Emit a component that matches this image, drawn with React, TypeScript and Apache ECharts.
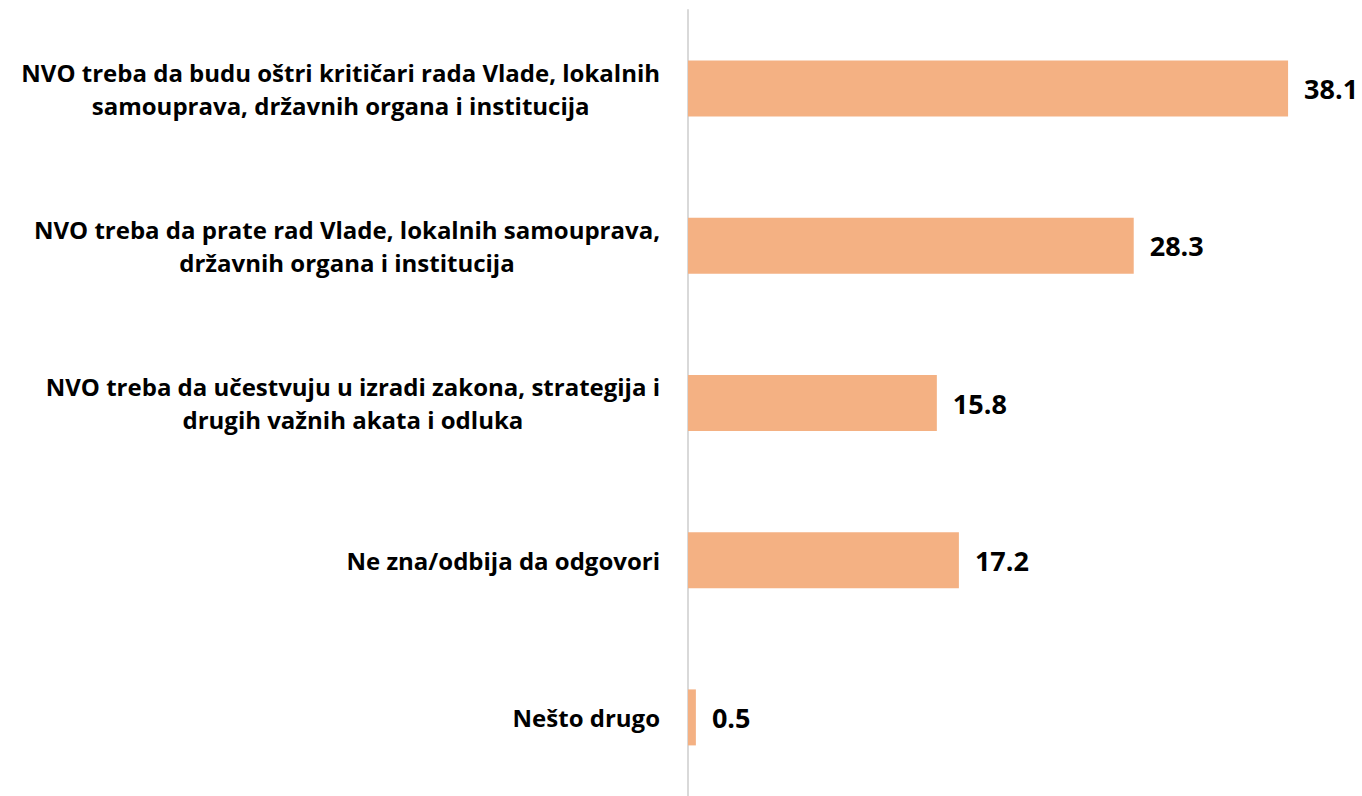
import React, { useEffect, useRef } from "react";
import * as echarts from "echarts";

const categories: string[] = [
  "NVO treba da budu oštri kritičari rada Vlade, lokalnih\nsamouprava, državnih organa i institucija",
  "NVO treba da prate rad Vlade, lokalnih samouprava,\ndržavnih organa i institucija",
  "NVO treba da učestvuju u izradi zakona, strategija i\ndrugih važnih akata i odluka",
  "Ne zna/odbija da odgovori",
  "Nešto drugo",
];

const values: number[] = [38.1, 28.3, 15.8, 17.2, 0.5];

const FONT = "'Open Sans', Lato, sans-serif";

export default function App() {
  const ref = useRef<HTMLDivElement>(null);

  useEffect(() => {
    if (!ref.current) return;
    const chart = echarts.init(ref.current, undefined, { renderer: "svg" });
    chart.setOption({
      animation: false,
      backgroundColor: "#ffffff",
      grid: { left: 688, top: 10, width: 630, height: 790, containLabel: false },
      xAxis: {
        type: "value",
        min: 0,
        max: 40,
        show: false,
        splitLine: { show: false },
      },
      yAxis: {
        type: "category",
        data: categories,
        inverse: true,
        axisLine: { show: true, lineStyle: { color: "#d9d9d9", width: 2 } },
        axisTick: { show: false },
        splitLine: { show: false },
        axisLabel: {
          margin: 28,
          formatter: (v: string) =>
            v
              .split("\n")
              .map((l) => "{a|" + l + "}")
              .join("\n"),
          rich: {
            a: {
              align: "center",
              fontFamily: FONT,
              fontSize: 24,
              fontWeight: "bold",
              color: "#000000",
              lineHeight: 33,
            },
          },
        },
      },
      series: [
        {
          type: "bar",
          data: values,
          barWidth: 56,
          itemStyle: { color: "#F4B183" },
          label: {
            show: true,
            position: "right",
            distance: 16,
            fontFamily: FONT,
            fontSize: 27,
            fontWeight: "bold",
            color: "#000000",
            formatter: (p: any) => Number(p.value).toFixed(1),
          },
        },
      ],
    });
    return () => chart.dispose();
  }, []);

  return (
    <div
      ref={ref}
      style={{ position: "absolute", left: 0, top: 0, width: 1362, height: 796, background: "#fff" }}
    />
  );
}
